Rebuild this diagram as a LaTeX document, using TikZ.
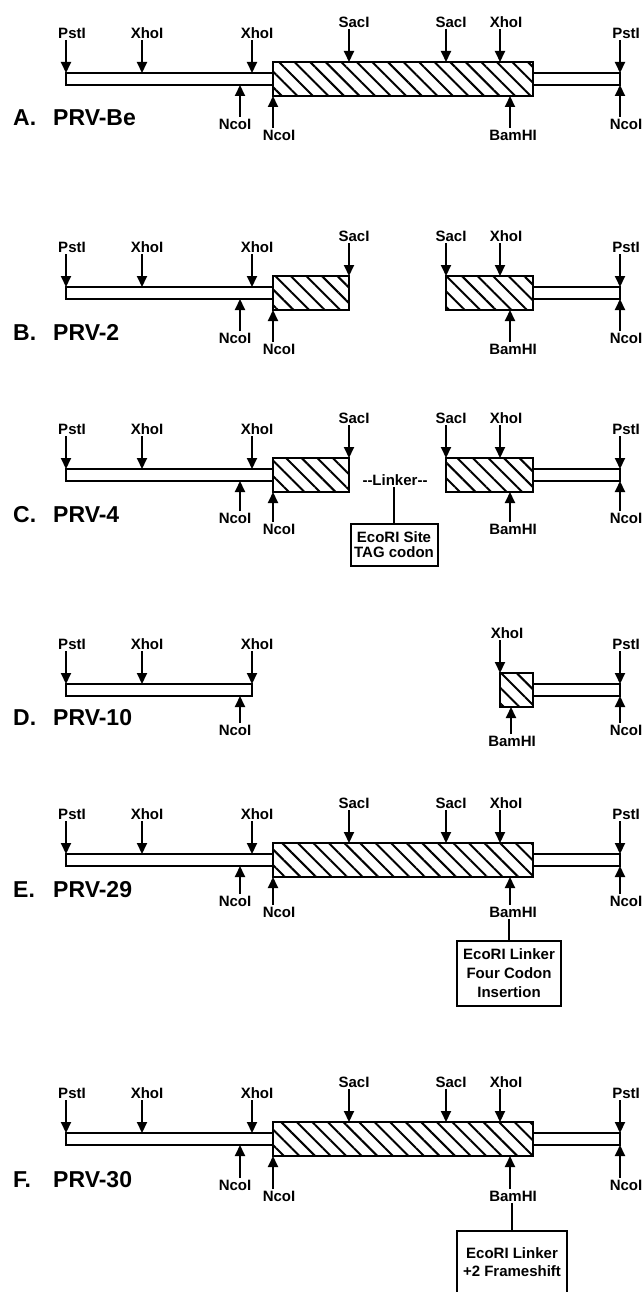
\documentclass[tikz,border=0pt]{standalone}
\usepackage{fontspec}
\setmainfont{Liberation Sans}
\usetikzlibrary{arrows.meta}
\usetikzlibrary{patterns.meta}

% sites of one construct: x / tip y / enzyme / label shift
\newcommand{\topsites}{66/73/PstI/6, 142/73/XhoI/5, 252/73/XhoI/5, 349/62/SacI/5, 446/62/SacI/5, 500/62/XhoI/6, 620/73/PstI/6}
\newcommand{\botsites}{240/85/NcoI/-5, 273/96/NcoI/6, 510/96/BamHI/3, 620/85/NcoI/6}

% cut sites drawn above / below the map
\newcommand{\cutsabove}[2]{%
  \foreach \xs/\ys/\lbl/\dx [count=\i] in #2 {
    \coordinate (#1u\i) at (\xs,\ys);
    \node[site, anchor=south] (#1ul\i) at ([xshift=\dx pt]\xs,\ys-33) {\lbl};
    \draw[cut] (#1ul\i.south -| #1u\i) -- (#1u\i);
  }}
\newcommand{\cutsbelow}[3]{%
  \foreach \xs/\ys/\lbl/\dx [count=\i] in #3 {
    \coordinate (#1d\i) at (\xs,\ys);
    \node[site, anchor=north] (#1dl\i) at ([xshift=\dx pt]\xs,\ys+#2) {\lbl};
    \draw[cut] (#1dl\i.north -| #1d\i) -- (#1d\i);
  }}

\begin{document}
\begin{tikzpicture}[
		x=1pt, y=-1pt,
		dna/.style={draw, line width=2pt},
		insert/.style={draw, line width=2.4pt, pattern={Lines[angle=-45, distance=11pt, line width=2pt]}},
		site/.style={font=\fontsize{15}{15}\selectfont\bfseries, inner sep=1.5pt},
		cut/.style={-{Triangle[width=10pt, length=11pt]}, line width=2pt},
		link/.style={line width=2pt},
		construct/.style={font=\fontsize{23}{23}\selectfont\bfseries, anchor=west, inner sep=0pt},
		notebox/.style={draw, line width=2pt, font=\fontsize{15}{#1}\selectfont\bfseries, align=center, inner sep=2pt}
		]
		\useasboundingbox (0,0) rectangle (644,1292);
		\clip (0,0) rectangle (644,1292);
		
		% A. PRV-Be
		\begin{scope}
			\draw[dna] (66,73) rectangle (273,85);
			\draw[dna] (533,73) rectangle (620,85);
			\draw[insert] (273,62) rectangle (533,96);
			\cutsabove{A}{\topsites}
			\cutsbelow{A}{32}{\botsites}
			\node[construct] (labA) at (13,118) {\makebox[40pt][l]{A.}PRV-Be};
		\end{scope}
		
		% B. PRV-2
		\begin{scope}[shift={(0,214)}]
			\draw[dna] (66,73) rectangle (273,85);
			\draw[dna] (533,73) rectangle (620,85);
			\draw[insert] (273,62) rectangle (349,96);
			\draw[insert] (446,62) rectangle (533,96);
			\cutsabove{B}{\topsites}
			\cutsbelow{B}{32}{\botsites}
			\node[construct] (labB) at (13,118) {\makebox[40pt][l]{B.}PRV-2};
		\end{scope}
		
		% C. PRV-4
		\begin{scope}[shift={(0,396)}]
			\draw[dna] (66,73) rectangle (273,85);
			\draw[dna] (533,73) rectangle (620,85);
			\draw[insert] (273,62) rectangle (349,96);
			\draw[insert] (446,62) rectangle (533,96);
			\cutsabove{C}{\topsites}
			\cutsbelow{C}{30}{\botsites}
			\node[construct] (labC) at (13,119) {\makebox[40pt][l]{C.}PRV-4};
			\node[site] (linker) at (395,84) {-{}-Linker-{}-};
			\node[notebox=15, anchor=north, minimum width=87, minimum height=42] (tagbox) at (394,127) {EcoRI Site\\TAG codon};
			\draw[link] (linker.south -| tagbox.north) -- (tagbox.north);
		\end{scope}
		
		% D. PRV-10
		\begin{scope}[shift={(0,611)}]
			\draw[dna] (66,73) rectangle (252,85);
			\draw[dna] (533,73) rectangle (620,85);
			\draw[insert] (500,62) rectangle (533,96);
			\cutsabove{D}{{66/73/PstI/6, 142/73/XhoI/5, 252/73/XhoI/5, 500/62/XhoI/7, 620/73/PstI/6}}
			\cutsbelow{D}{27}{{240/85/NcoI/-5, 511/96/BamHI/1, 620/85/NcoI/6}}
			\node[construct] (labD) at (13,107) {\makebox[40pt][l]{D.}PRV-10};
		\end{scope}
		
		% E. PRV-29
		\begin{scope}[shift={(0,781)}]
			\draw[dna] (66,73) rectangle (273,85);
			\draw[dna] (533,73) rectangle (620,85);
			\draw[insert] (273,62) rectangle (533,96);
			\cutsabove{E}{\topsites}
			\cutsbelow{E}{28}{\botsites}
			\node[construct] (labE) at (13,109) {\makebox[40pt][l]{E.}PRV-29};
			\node[notebox=19, anchor=north, minimum width=104, minimum height=65] (insbox) at (509,159) {EcoRI Linker\\Four Codon\\Insertion};
			\draw[link] (Edl3.south -| insbox.north) -- (insbox.north);
		\end{scope}
		
		% F. PRV-30
		\begin{scope}[shift={(0,1060)}]
			\draw[dna] (66,73) rectangle (273,85);
			\draw[dna] (533,73) rectangle (620,85);
			\draw[insert] (273,62) rectangle (533,96);
			\cutsabove{F}{\topsites}
			\cutsbelow{F}{33}{\botsites}
			\node[construct] (labF) at (13,120) {\makebox[40pt][l]{F.}PRV-30};
			\node[notebox=18, anchor=north, minimum width=110] (fsbox) at (512,170) {\rule{0pt}{25pt}EcoRI Linker\\+2 Frameshift\\[24pt]\mbox{}};
			\draw[link] (Fdl3.south -| fsbox.north) -- (fsbox.north);
		\end{scope}
		
	\end{tikzpicture}
\end{document}
